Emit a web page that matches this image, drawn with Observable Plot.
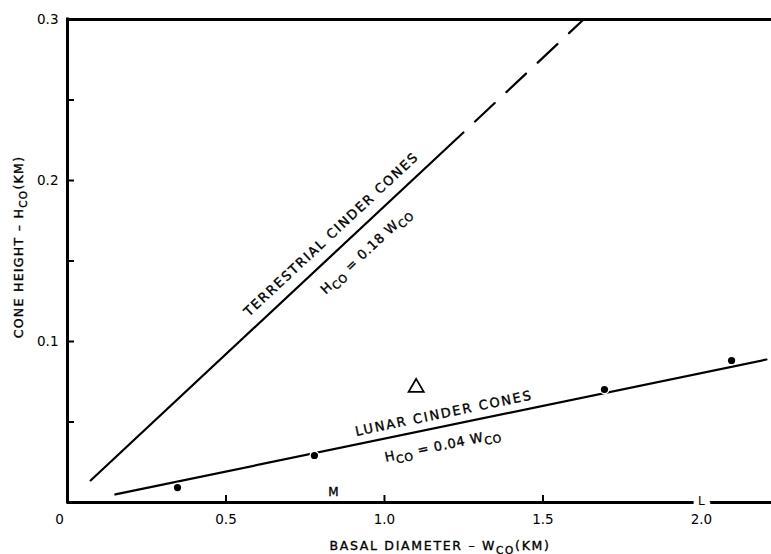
<!DOCTYPE html>
<html>
<head>
<meta charset="utf-8">
<script src="https://cdn.jsdelivr.net/npm/d3@7"></script>
<script src="https://cdn.jsdelivr.net/npm/@observablehq/plot@0.6"></script>
<style>
  html, body { margin: 0; padding: 0; background: #fff; }
  #chart { width: 771px; height: 554px; }
</style>
</head>
<body>
<div id="chart"></div>
<script>
// ---- Data ----
const terrestrialSolidX = [0.073, 1.249];
const terrestrialSolidY = [0.0137, 0.2298];
const terrestrialDashX = [1.249, 1.628];
const terrestrialDashY = [0.2298, 0.300];
const lunarLineX = [0.151, 2.205];
const lunarLineY = [0.0050, 0.0888];
const lunarPointX = [0.347, 0.779, 1.694, 2.095];
const lunarPointY = [0.0093, 0.0292, 0.0702, 0.0882];
const triangleX = [1.10];
const triangleY = [0.0714];
const xTickValues = [0, 0.5, 1.0, 1.5, 2.0];
const xTickLabels = ["0", "0.5", "1.0", "1.5", "2.0"];
const xTickMarks = [0.5, 1.0, 1.5];
const yTickValues = [0.1, 0.2, 0.3];
const yTickLabels = ["0.1", "0.2", "0.3"];
const yTickMarks = [0.05, 0.1, 0.15, 0.2, 0.25];
const siteNames = ["M", "L"];
const siteX = [0.839, 2.0];
const siteY = [0.0062, 0];

const zip = (xs, ys) => xs.map((x, i) => ({x, y: ys[i]}));
const fmtX = d => xTickLabels[xTickValues.indexOf(d)];
const fmtY = d => yTickLabels[yTickValues.indexOf(d)];
const font = "'DejaVu Sans', 'Liberation Sans', sans-serif";

const terrSolid = zip(terrestrialSolidX, terrestrialSolidY);
const terrDash = zip(terrestrialDashX, terrestrialDashY);
const lunarLine = zip(lunarLineX, lunarLineY);
const lunarPts = zip(lunarPointX, lunarPointY);
const tri = zip(triangleX, triangleY);
const sites = siteNames.map((s, i) => ({s, x: siteX[i], y: siteY[i]}));

const bold = {stroke: "black", strokeWidth: 0.35};

const plot = Plot.plot({
  width: 771,
  height: 554,
  marginLeft: 67,
  marginRight: 0,
  marginTop: 19,
  marginBottom: 52,
  x: {domain: [0, 2.221]},
  y: {domain: [0, 0.3]},
  style: {fontFamily: font, fontSize: "13px", color: "black", background: "white", overflow: "visible"},
  marks: [
    // inward tick marks
    Plot.axisY(yTickMarks, {tickSize: -7, tickFormat: () => "", strokeWidth: 2, label: null}),
    Plot.axisX(xTickMarks, {tickSize: -7, tickFormat: () => "", strokeWidth: 2, label: null}),
    // tick labels
    Plot.axisY(yTickValues, {tickSize: 0, tickPadding: 9, tickFormat: fmtY, fontSize: 13.5, label: null, ...bold}),
    Plot.axisX(xTickValues.slice(1), {tickSize: 0, tickPadding: 12, tickFormat: fmtX, fontSize: 13.5, label: null, ...bold}),
    Plot.axisX([0], {tickSize: 0, tickPadding: 12, tickFormat: fmtX, fontSize: 13.5, dx: -8, label: null, ...bold}),
    // frame lines
    Plot.ruleY([0.3], {strokeWidth: 3}),
    Plot.ruleY([0], {strokeWidth: 3}),
    Plot.ruleX([0], {strokeWidth: 3, strokeLinecap: "square"}),
    // relations
    Plot.line(terrSolid, {x: "x", y: "y", strokeWidth: 2.2}),
    Plot.line(terrDash, {x: "x", y: "y", strokeWidth: 2.2, strokeDasharray: "27 16", strokeDashoffset: 27}),
    Plot.line(lunarLine, {x: "x", y: "y", strokeWidth: 2.2}),
    Plot.dot(lunarPts, {x: "x", y: "y", r: 3.6, fill: "black", stroke: "white", strokeWidth: 2.6, paintOrder: "stroke"}),
    Plot.dot(tri, {x: "x", y: "y", symbol: "triangle", r: 5.6, fill: "none", stroke: "black", strokeWidth: 1.8}),
    // site labels
    Plot.text(sites.filter(d => d.s === "M"), {x: "x", y: "y", text: "s", fontSize: 12, fill: "black", ...bold}),
    Plot.text(sites.filter(d => d.s === "L"), {x: "x", y: "y", text: "s", fontSize: 12, dy: -1, fill: "black", stroke: "white", strokeWidth: 11})
  ]
});

document.getElementById("chart").append(plot);

// ---- rich text annotations (with subscripts) ----
const svg = d3.select(plot);
const X = v => plot.scale("x").apply(v);
const Y = v => plot.scale("y").apply(v);
const angleOf = pts => Math.atan2(Y(pts[1].y) - Y(pts[0].y), X(pts[1].x) - X(pts[0].x)) * 180 / Math.PI;

function rich(parts, {x, y, angle = 0, size = 13, sub = 10, spacing = 1.5, shift = 4}) {
  const t = svg.append("text")
    .attr("transform", `translate(${x},${y}) rotate(${angle})`)
    .attr("text-anchor", "middle")
    .attr("font-family", font)
    .attr("font-size", size)
    .attr("letter-spacing", spacing)
    .attr("fill", "black")
    .attr("stroke", "black")
    .attr("stroke-width", 0.35);
  let cur = 0;
  parts.forEach(([s, isSub], i) => {
    const target = isSub ? shift : 0;
    const ts = t.append("tspan").text(s).attr("dy", (i === 0 ? 0.36 * size : 0) + (target - cur));
    if (isSub) ts.attr("font-size", sub);
    cur = target;
  });
}

const aT = angleOf(terrSolid);
const aL = angleOf(lunarLine);

rich([["TERRESTRIAL CINDER CONES", false]], {x: X(0.833), y: Y(0.1665), angle: aT, size: 13, spacing: 1.75});
rich([["H", false], ["CO", true], [" = 0.18 W", false], ["CO", true]], {x: X(0.943), y: Y(0.156), angle: aT, size: 13, sub: 11, spacing: 0.8});
rich([["LUNAR CINDER CONES", false]], {x: X(1.189), y: Y(0.0553), angle: aL, size: 13, spacing: 1.85});
rich([["H", false], ["CO", true], [" = 0.04 W", false], ["CO", true]], {x: X(1.186), y: Y(0.0354), angle: aL, size: 13, sub: 11, spacing: 0.8});

// axis titles
rich([["CONE HEIGHT – H", false], ["CO", true], ["(KM)", false]], {x: 18, y: 247, angle: -90, size: 12.5, sub: 10.5, spacing: 1.3});
rich([["BASAL DIAMETER – W", false], ["CO", true], ["(KM)", false]], {x: 440, y: 545, angle: 0, size: 12.5, sub: 10.5, spacing: 1.7});
</script>
</body>
</html>
